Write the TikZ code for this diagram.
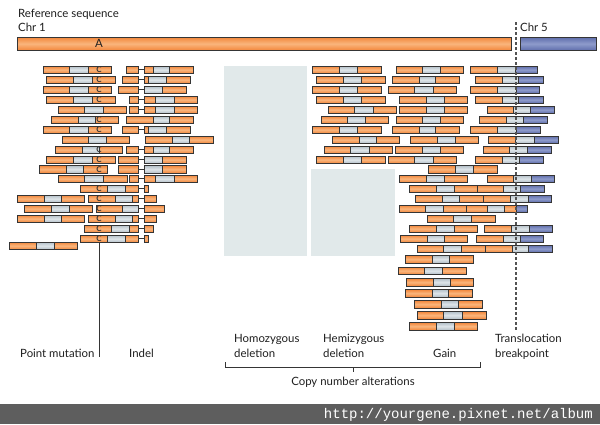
\documentclass[tikz,border=0pt]{standalone}
\usepackage{fontspec}
\setmainfont{Lato}
\newfontfamily\urlfont{Liberation Mono}
\usepackage{tikz}

\definecolor{orgedge}{HTML}{F2863A}
\definecolor{orgmid}{HTML}{F9B57C}
\definecolor{gryedge}{HTML}{B3BFC7}
\definecolor{grymid}{HTML}{DEE5E9}
\definecolor{bluedge}{HTML}{5E6DAB}
\definecolor{blumid}{HTML}{8E9BCB}
\definecolor{rdline}{HTML}{353535}
\definecolor{delgrey}{HTML}{E1E9EA}
\definecolor{urlbar}{HTML}{5E5E5E}

\newcommand{\seg}[4][orgseg]{\path[#1] (#3,#2) rectangle (#4,#2+7.5);}
\newcommand{\rd}[5]{\seg{#1}{#2}{#3}\seg[gryseg]{#1}{#3}{#4}\seg{#1}{#4}{#5}}
\newcommand{\trd}[5]{\seg{#1}{#2}{#3}\seg[gryseg]{#1}{#3}{#4}\seg[bluseg]{#1}{#4}{#5}}
\newcommand{\idl}[2]{\seg{#1}{#2}{138}\draw[gapline] (138,#1+3.75) -- (144,#1+3.75);}
\newcommand{\mutc}[2]{\node[mut] (#1) at (99,#2+3.9) {C};}

\begin{document}
\begin{tikzpicture}[x=1pt, y=-1pt,
    orgseg/.style={draw=rdline, line width=0.7pt, top color=orgedge, bottom color=orgedge, middle color=orgmid},
    gryseg/.style={draw=rdline, line width=0.7pt, top color=gryedge, bottom color=gryedge, middle color=grymid},
    bluseg/.style={draw=rdline, line width=0.7pt, top color=bluedge, bottom color=bluedge, middle color=blumid},
    gapline/.style={draw=rdline, line width=0.8pt},
    mut/.style={font=\fontsize{8}{8}\selectfont\bfseries, text=rdline, inner sep=0pt},
    lbl/.style={font=\fontsize{11.4}{15}\selectfont, text=black!88, inner sep=0pt, align=left},
    delzone/.style={fill=delgrey},
    pin/.style={draw=rdline, line width=0.9pt},
    bpline/.style={draw=rdline!85, line width=1.2pt, dash pattern=on 3pt off 2pt}]
    \useasboundingbox (0,0) rectangle (600,424);
    \fill[white] (0,0) rectangle (600,424);

    \node[lbl, anchor=base west] (refseq) at (18,17.7) {Reference sequence};
    \node[lbl, anchor=base west] (chrA) at (18,31.7) {Chr 1};
    \node[lbl, anchor=base west] (chrB) at (520,31) {Chr 5};
    \path[orgseg, line width=0.8pt] (17,37) rectangle (511,50.5);
    \path[bluseg, line width=0.8pt] (520,37) rectangle (596,50.5);
    \node[lbl] (base) at (99,43.8) {A};

    \fill[delzone] (224,66) rectangle (307,256);
    \fill[delzone] (311,169) rectangle (395,256);

    \rd{66}{43}{69}{88}{111}
    \rd{76}{46}{73}{92}{115}
    \rd{86}{43}{69}{88}{111}
    \rd{96}{46}{73}{92}{115}
    \rd{106}{58}{84}{103}{126}
    \rd{116}{51}{78}{95}{118}
    \rd{126}{43}{69}{88}{111}
    \rd{136}{62}{88}{106}{129}
    \rd{146}{55}{82}{99}{122}
    \rd{156}{46}{73}{92}{115}
    \rd{165.5}{39}{66}{83}{107}
    \rd{175}{58}{84}{103}{127}
    \seg{185}{80}{107}\seg[gryseg]{185}{107}{125}\idl{185}{125}\seg{185}{144}{148}
    \rd{195}{17}{44}{61}{84}
    \seg{195}{88}{115}\seg[gryseg]{195}{115}{132}\idl{195}{132}\seg{195}{144}{156}
    \rd{205}{24}{51}{69}{92}
    \seg{205}{96}{122}\path[gryseg] (122,205) rectangle (138,212.5);
    \draw[gapline] (138,208.75) -- (144,208.75);\seg{205}{144}{164}
    \rd{215}{17}{44}{61}{84}
    \seg{215}{88}{115}\seg[gryseg]{215}{115}{132}\idl{215}{132}\seg{215}{144}{156}
    \seg{225}{84}{111}\seg[gryseg]{225}{111}{129}\idl{225}{129}\seg{225}{144}{153}
    \seg{235}{80}{107}\seg[gryseg]{235}{107}{125}\idl{235}{125}\seg{235}{144}{148}
    \rd{242}{9}{36}{54}{77}

    \mutc{c1}{66}
    \mutc{c2}{76}
    \mutc{c3}{86}
    \mutc{c4}{96}
    \mutc{c5}{116}
    \mutc{c6}{126}
    \mutc{c7}{146}
    \mutc{c8}{156}
    \mutc{c9}{165.5}
    \mutc{c10}{185}
    \mutc{c11}{195}
    \mutc{c12}{205}
    \mutc{c13}{215}
    \mutc{c14}{225}
    \mutc{c15}{235}

    \idl{66}{126}\rd{66}{144}{153}{169}{193}
    \idl{76}{122}\rd{76}{144}{148}{166}{190}
    \idl{86}{118}\seg[gryseg]{86}{144}{162}\seg{86}{162}{186}
    \idl{96}{129}\rd{96}{144}{155}{174}{197}
    \idl{106}{129}\rd{106}{144}{155}{174}{197}
    \rd{116}{126}{153}{169}{193}
    \idl{126}{122}\rd{126}{144}{148}{166}{190}
    \rd{136}{145}{172}{189}{213}
    \idl{146}{126}\rd{146}{144}{153}{169}{193}
    \idl{156}{118}\seg[gryseg]{156}{144}{162}\seg{156}{162}{186}
    \idl{165.5}{118}\seg[gryseg]{165.5}{144}{162}\seg{165.5}{162}{186}
    \idl{175}{129}\rd{175}{144}{155}{174}{197}

    \rd{66}{312}{339}{357}{381}
    \rd{76}{316}{343}{361}{385}
    \rd{86}{312}{339}{357}{381}
    \rd{96}{316}{343}{361}{385}
    \rd{106}{328}{354}{373}{396}
    \rd{116}{321}{347}{365}{388}
    \rd{126}{312}{339}{357}{381}
    \rd{136}{332}{359}{376}{399}
    \rd{146}{324}{350}{369}{392}
    \rd{156}{316}{343}{361}{385}

    \rd{66}{396}{422}{440}{463}
    \rd{76}{392}{419}{435}{459}
    \rd{86}{388}{414}{433}{456}
    \rd{96}{399}{426}{444}{467}
    \rd{106}{399}{426}{444}{467}
    \rd{116}{396}{422}{440}{463}
    \rd{126}{392}{419}{435}{459}
    \rd{136}{410}{437}{455}{478}
    \rd{146}{395}{422}{440}{463}
    \rd{156}{388}{414}{433}{456}
    \rd{165.5}{428}{455}{473}{497}
    \rd{175}{399}{426}{444}{467}
    \rd{185}{409}{436}{454}{477}
    \rd{195}{415}{442}{459}{483}
    \rd{205}{399}{425}{443}{466}
    \rd{215}{427}{453}{471}{495}
    \rd{225}{409}{436}{454}{477}
    \rd{235}{400}{427}{444}{467}
    \rd{245}{417}{443}{461}{485}
    \rd{255.5}{405}{432}{449}{473}
    \rd{267}{398}{424}{442}{466}
    \rd{278.5}{406}{433}{450}{473}
    \rd{289.5}{405}{432}{448}{472}
    \rd{300.5}{414}{441}{458}{482}
    \rd{311.5}{417}{443}{462}{486}
    \rd{322.5}{409}{436}{454}{477}

    \trd{66}{470}{497}{515}{537}
    \trd{76}{475}{502}{518}{543}
    \trd{86}{470}{497}{516}{539}
    \trd{96}{475}{502}{518}{543}
    \trd{106}{487}{513}{530}{554}
    \trd{116}{479}{506}{523}{547}
    \trd{126}{470}{497}{516}{540}
    \trd{136}{488}{515}{534}{558}
    \trd{146}{483}{509}{527}{551}
    \trd{156}{475}{502}{519}{543}
    \trd{175}{487}{513}{531}{554}
    \trd{185}{477}{503}{520}{544}
    \trd{195}{483}{510}{528}{551}
    \rd{205}{466}{487}{504}{516}\seg[bluseg]{205}{516}{527}
    \trd{225}{484}{511}{529}{552}
    \trd{235}{476}{503}{520}{543}
    \trd{245}{485}{512}{528}{552}

    \coordinate (bptop) at (516,22);
    \coordinate (bpbot) at (516,330);
    \draw[bpline] (bptop) -- (bpbot);

    \coordinate (pmtop) at (99,242.5);
    \coordinate (pmbot) at (99,356.5);
    \draw[pin] (pmtop) -- (pmbot);

    \node[lbl, anchor=base west] (ptmut) at (20,357) {Point mutation};
    \node[lbl, anchor=base west] (indel) at (129,357) {Indel};
    \node[lbl, anchor=north west] (homdel) at (234,334) {Homozygous\\deletion};
    \node[lbl, anchor=north west] (hemdel) at (323,334) {Hemizygous\\deletion};
    \node[lbl, anchor=base west] (gain) at (433,357) {Gain};
    \node[lbl, anchor=north west] (trans) at (495,334) {Translocation\\breakpoint};

    \coordinate (brL) at (225,362);
    \coordinate (brR) at (480,362);
    \coordinate (brM) at (353,367);
    \draw[pin, line width=0.8pt] (brL) -- ++(0,5) -| (brR);
    \draw[pin, line width=0.8pt] (brM) -- ++(0,5);
    \node[lbl, anchor=base] (cna) at (353,385) {Copy number alterations};

    \fill[urlbar] (0,404) rectangle (600,424);
    \node[anchor=east, inner sep=0pt, text=white, font=\urlfont\fontsize{14}{14}\selectfont] (url) at (593,414.5) {http://yourgene.pixnet.net/album};
\end{tikzpicture}
\end{document}
